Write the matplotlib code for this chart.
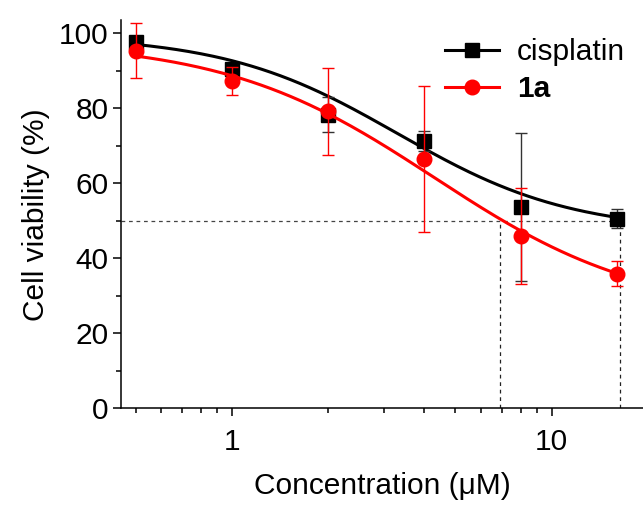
import numpy as np
import matplotlib.pyplot as plt
from matplotlib.ticker import FixedLocator, NullFormatter, MultipleLocator

plt.rcParams['font.family'] = ['Liberation Sans', 'DejaVu Sans']

# data
conc = [0.5, 1, 2, 4, 8, 16]
cis_mean = [97.6, 90.6, 78.3, 71.2, 53.7, 50.6]
cis_err = [1.5, 1.2, 4.7, 2.7, 19.7, 2.5]
c1a_mean = [95.4, 87.3, 79.2, 66.5, 46.0, 35.9]
c1a_err = [7.4, 3.8, 11.6, 19.4, 12.8, 3.4]

# dose-response (Hill) fit parameters: top, bottom, x0, slope
cis_fit = [99.5, 47.0, 3.3, 1.6]
c1a_fit = [98.0, 25.0, 4.3, 1.32]

# dashed guide lines at 50 %
guide_y = 50
guide_x = [6.9, 16.3]


def hill(x, top, bottom, x0, p):
    return bottom + (top - bottom) / (1 + (x / x0) ** p)


fig = plt.figure(figsize=(6.43, 5.07), dpi=100)
ax = fig.add_axes([0.188, 0.195, 0.812, 0.765])

xs = np.logspace(np.log10(conc[0]), np.log10(conc[-1]), 200)

# guide lines
ax.plot([0.45, guide_x[1]], [guide_y, guide_y], color='#444444', lw=0.9, dashes=(3, 3))
for gx in guide_x:
    ax.plot([gx, gx], [0, guide_y], color='#222222', lw=0.9, dashes=(3, 3))

# cisplatin
ax.plot(xs, hill(xs, *cis_fit), color='black', lw=2.2, zorder=3)
ax.errorbar(conc, cis_mean, yerr=cis_err, fmt='none', ecolor='#333333',
            elinewidth=1, capsize=4, capthick=1, zorder=3)
ax.plot(conc, cis_mean, 's', color='black', ms=9.5, zorder=4)

# 1a
ax.plot(xs, hill(xs, *c1a_fit), color='red', lw=2.2, zorder=5)
ax.errorbar(conc, c1a_mean, yerr=c1a_err, fmt='none', ecolor='red',
            elinewidth=1, capsize=4, capthick=1, zorder=5)
ax.plot(conc, c1a_mean, 'o', color='red', ms=10.5, zorder=6)

# legend handles
h1, = ax.plot([], [], 's-', color='black', lw=2.2, ms=9.5)
h2, = ax.plot([], [], 'o-', color='red', lw=2.2, ms=10.5)
leg = ax.legend([h1, h2], ['cisplatin', '1a'], loc='upper right',
                bbox_to_anchor=(1.0, 1.0), frameon=False, fontsize=21.5,
                handlelength=1.8, handletextpad=0.6, labelspacing=0.3,
                borderaxespad=0.2)
leg.get_texts()[1].set_fontweight('bold')

ax.set_xscale('log')
ax.set_xlim(0.45, 19.3)
ax.set_ylim(0, 103.5)

ax.xaxis.set_major_locator(FixedLocator([1, 10]))
ax.xaxis.set_minor_locator(FixedLocator([0.5, 0.6, 0.7, 0.8, 0.9,
                                         2, 3, 4, 5, 6, 7, 8, 9]))
ax.xaxis.set_minor_formatter(NullFormatter())
ax.set_xticklabels(['1', '10'])
ax.yaxis.set_major_locator(MultipleLocator(20))
ax.yaxis.set_minor_locator(MultipleLocator(10))

for s in ['top', 'right']:
    ax.spines[s].set_visible(False)
for s in ['left', 'bottom']:
    ax.spines[s].set_linewidth(1.1)

ax.tick_params(which='major', direction='out', length=6, width=1.1, labelsize=21.5)
ax.tick_params(which='minor', direction='out', length=3.5, width=1.1)
ax.tick_params(axis='x', pad=8)
ax.tick_params(axis='y', pad=3)

ax.set_xlabel('Concentration (\u03bcM)', fontsize=21.5, labelpad=12)
ax.set_ylabel('Cell viability (%)', fontsize=21.5, labelpad=6)

fig.savefig('out.png', dpi=100)
